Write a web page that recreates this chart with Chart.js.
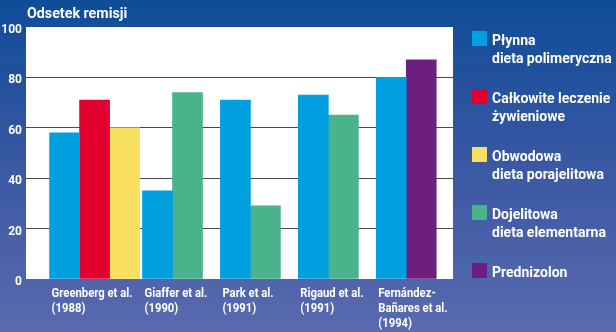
<!DOCTYPE html>
<html>
<head>
<meta charset="utf-8">
<script src="https://cdn.jsdelivr.net/npm/chart.js@4.4.0/dist/chart.umd.min.js"></script>
<style>
  html, body { margin: 0; padding: 0; background: #2f58a3; }
  #wrap { width: 616px; height: 332px; }
</style>
</head>
<body>
<div id="wrap"><canvas id="chart" width="616" height="332"></canvas></div>
<script>
const studies = [
  ["Greenberg et al.", "(1988)"],
  ["Giaffer et al.", "(1990)"],
  ["Park et al.", "(1991)"],
  ["Rigaud et al.", "(1991)"],
  ["Fernández-", "Bañares et al.", "(1994)"]
];
const seriesNames = [
  ["Płynna", "dieta polimeryczna"],
  ["Całkowite leczenie", "żywieniowe"],
  ["Obwodowa", "dieta porajelitowa"],
  ["Dojelitowa", "dieta elementarna"],
  ["Prednizolon"]
];
const plynna      = [58, 35, 71, 73, 80];
const calkowite   = [71, null, null, null, null];
const obwodowa    = [60, null, null, null, null];
const dojelitowa  = [null, 74, 29, 65, null];
const prednizolon = [null, null, null, null, 87];
const yTicks = [0, 20, 40, 60, 80, 100];
const colors = ["#009fe0", "#e2002f", "#f8df62", "#4ab38b", "#6d1f7e"];

const FONT = 'Roboto, "Liberation Sans", sans-serif';
Chart.defaults.font.family = FONT;

const series = [plynna, calkowite, obwodowa, dojelitowa, prednizolon];

// condensed look: squeeze text horizontally
function squeezed(ctx, text, x, y, sx) {
  ctx.save();
  ctx.translate(x, y);
  ctx.scale(sx, 1);
  ctx.fillText(text, 0, 0);
  ctx.restore();
}

// background gradient + white plot area
const backdrop = {
  id: "backdrop",
  beforeDraw(chart) {
    const { ctx, width, height, chartArea: a } = chart;
    const g = ctx.createLinearGradient(0, 0, 0, height);
    g.addColorStop(0, "#0f4c98");
    g.addColorStop(0.5, "#3a58a3");
    g.addColorStop(1, "#5a6aaf");
    ctx.save();
    ctx.fillStyle = g;
    ctx.fillRect(0, 0, width, height);
    ctx.fillStyle = "#fff";
    ctx.fillRect(a.left, a.top, a.right - a.left, a.bottom - a.top);
    ctx.restore();
  }
};

// title, study labels under the groups, legend on the right
const texts = {
  id: "texts",
  afterDraw(chart) {
    const { ctx } = chart;
    ctx.save();
    ctx.fillStyle = "#fff";
    ctx.textBaseline = "alphabetic";
    ctx.textAlign = "left";

    ctx.font = "bold 15px " + FONT;
    squeezed(ctx, "Odsetek remisji", 27, 18, 0.95);

    ctx.font = "bold 12px " + FONT;
    studies.forEach((lines, i) => {
      let left = Infinity;
      chart.data.datasets.forEach((ds, d) => {
        if (ds.data[i].y == null) return;
        const bar = chart.getDatasetMeta(d).data[i];
        left = Math.min(left, bar.x - bar.width / 2);
      });
      lines.forEach((l, j) => squeezed(ctx, l, left + 2, 297 + j * 15, 0.94));
    });

    ctx.font = "bold 14px " + FONT;
    seriesNames.forEach((lines, k) => {
      const top = 31 + k * 58;
      ctx.fillStyle = colors[k];
      ctx.fillRect(472, top, 15, 15);
      ctx.fillStyle = "#fff";
      lines.forEach((l, j) => squeezed(ctx, l, 492, top + 14 + j * 18, 1.0));
    });
    ctx.restore();
  }
};

new Chart(document.getElementById("chart"), {
  type: "bar",
  data: {
    datasets: series.map((vals, k) => ({
      label: seriesNames[k].join(" "),
      data: vals.map((v, i) => ({ x: i, y: v })),
      backgroundColor: colors[k],
      borderWidth: 0,
      barThickness: 30,
      skipNull: true
    }))
  },
  options: {
    responsive: false,
    animation: false,
    layout: { padding: { top: 27, right: 163, bottom: 53, left: 0 } },
    scales: {
      x: { type: "linear", min: -0.88, max: 4.6, offset: false, grid: { offset: false }, display: false },
      y: {
        min: 0,
        max: 100,
        afterBuildTicks: s => { s.ticks = yTicks.map(v => ({ value: v })); },
        afterFit: s => { s.width = 26; },
        ticks: { color: "#fff", font: { size: 12, weight: "bold" }, padding: 4, labelOffset: 3 },
        grid: {
          color: c => (c.tick.value === 0 || c.tick.value === 100) ? "rgba(0,0,0,0)" : "#4a4a4a",
          lineWidth: 1,
          drawTicks: false
        },
        border: { display: false }
      }
    },
    plugins: {
      legend: { display: false },
      tooltip: { enabled: false }
    }
  },
  plugins: [backdrop, texts]
});
</script>
</body>
</html>
